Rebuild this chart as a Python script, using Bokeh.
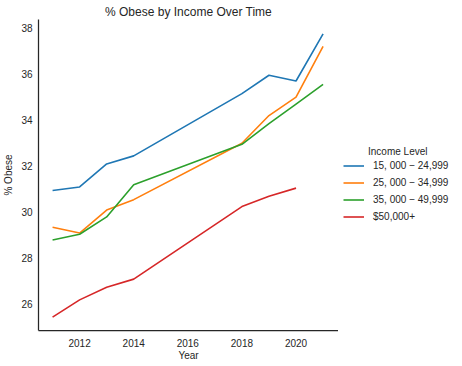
from bokeh.plotting import figure
from bokeh.models import Range1d, Legend, LegendItem, FixedTicker
from bokeh.layouts import row
from bokeh.embed import file_html
from bokeh.resources import INLINE

# ---- data ----
years_a = [2011, 2012, 2013, 2014, 2018, 2019, 2020, 2021]
obese_15k = [30.95, 31.1, 32.1, 32.45, 35.15, 35.95, 35.7, 37.75]
obese_25k = [29.35, 29.1, 30.1, 30.55, 33.0, 34.2, 35.0, 37.2]
obese_35k = [28.8, 29.05, 29.8, 31.2, 32.95, 33.85, 34.7, 35.55]
years_b = [2011, 2012, 2013, 2014, 2018, 2019, 2020]
obese_50k = [25.45, 26.2, 26.75, 27.1, 30.25, 30.7, 31.05]

labels = ["15, 000 \u2212 24,999", "25, 000 \u2212 34,999", "35, 000 \u2212 49,999", "$50,000+"]
colors = ["#1f77b4", "#ff7f0e", "#2ca02c", "#d62728"]
x_ticks = [2012, 2014, 2016, 2018, 2020]
y_ticks = [26, 28, 30, 32, 34, 36, 38]

FONT = "Liberation Sans"
INK = "#262626"

# main plot
p = figure(width=338, height=366, output_backend="svg", toolbar_location=None,
           x_range=Range1d(2010.48, 2021.57), y_range=Range1d(24.87, 38.37),
           min_border_left=38, min_border_right=0, min_border_top=19, min_border_bottom=36)

series = [(years_a, obese_15k), (years_a, obese_25k), (years_a, obese_35k), (years_b, obese_50k)]
for (xs, ys), col in zip(series, colors):
    p.line(xs, ys, line_color=col, line_width=1.6)

p.title.text = "% Obese by Income Over Time"
p.title.align = "center"
p.title.text_font = FONT
p.title.text_font_size = "12px"
p.title.text_font_style = "normal"
p.title.text_color = INK
p.title.standoff = 2

p.xgrid.visible = False
p.ygrid.visible = False
p.outline_line_color = None

for ax in (p.xaxis, p.yaxis):
    ax.axis_line_color = INK
    ax.axis_line_width = 1.25
    ax.major_tick_line_color = None
    ax.minor_tick_line_color = None
    ax.major_tick_out = 0
    ax.major_tick_in = 0
    ax.minor_tick_out = 0
    ax.minor_tick_in = 0
    ax.major_label_text_font = FONT
    ax.major_label_text_font_size = "10px"
    ax.major_label_text_color = INK
    ax.axis_label_text_font = FONT
    ax.axis_label_text_font_size = "10px"
    ax.axis_label_text_color = INK
    ax.axis_label_text_font_style = "normal"

p.xaxis.ticker = FixedTicker(ticks=x_ticks)
p.yaxis.ticker = FixedTicker(ticks=y_ticks)
p.xaxis.axis_label = "Year"
p.yaxis.axis_label = "% Obese"
p.xaxis.major_label_standoff = 8
p.yaxis.major_label_standoff = 6
p.xaxis.axis_label_standoff = 0
p.yaxis.axis_label_standoff = 4

# legend panel (separate figure to the right)
q = figure(width=124, height=366, output_backend="svg", toolbar_location=None,
           x_range=Range1d(0, 1), y_range=Range1d(0, 1),
           x_axis_type=None, y_axis_type=None,
           min_border_left=0, min_border_right=0, min_border_top=0, min_border_bottom=0)
q.xgrid.visible = False
q.ygrid.visible = False
q.outline_line_color = None

nan = float("nan")
items = []
for lab, col in zip(labels, colors):
    # invisible placeholder renderer, only used to draw the legend swatch
    r = q.line(x=[nan], y=[nan], line_color=col, line_width=1.6)
    items.append(LegendItem(label=lab, renderers=[r]))

legend = Legend(items=items, location=(5, 105), title="\u00a0" * 9 + "Income Level",
                title_text_font=FONT, title_text_font_size="10px", title_text_color=INK,
                title_text_font_style="normal", title_standoff=0,
                glyph_width=21, glyph_height=17, label_height=17, spacing=0,
                padding=0, margin=0, label_standoff=9,
                border_line_color=None, background_fill_alpha=0,
                label_text_font=FONT, label_text_font_size="10px", label_text_color=INK)
q.add_layout(legend, "center")

layout = row(p, q, spacing=0)
open("out.html", "w").write(file_html(layout, INLINE))
